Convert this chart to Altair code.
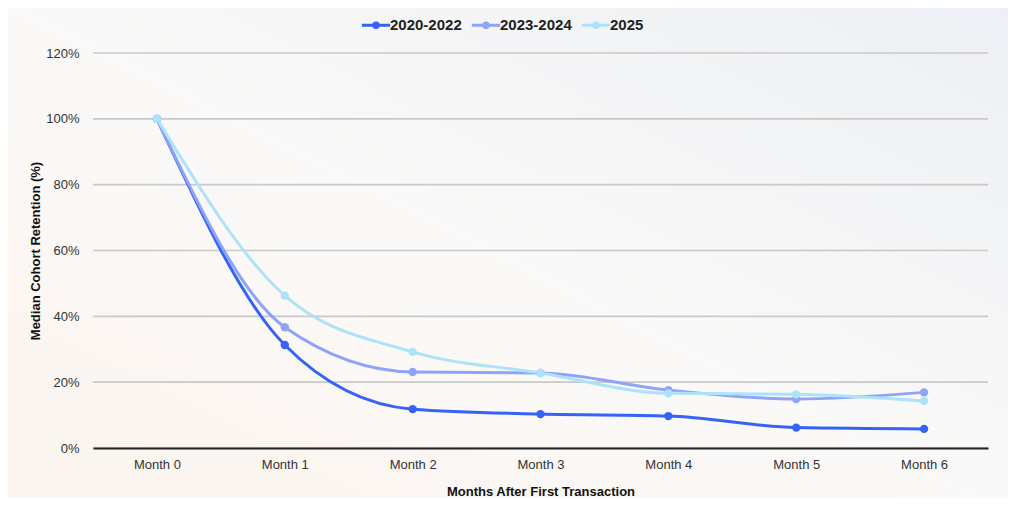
import altair as alt
import pandas as pd

months = ["Month 0", "Month 1", "Month 2", "Month 3", "Month 4", "Month 5", "Month 6"]
series_names = ["2020-2022", "2023-2024", "2025"]
s2020_2022 = [100, 31.3, 11.8, 10.3, 9.7, 6.2, 5.8]
s2023_2024 = [100, 36.7, 23.1, 22.8, 17.6, 14.9, 16.9]
s2025 = [100, 46.3, 29.2, 22.8, 16.6, 16.3, 14.3]
colors = ["#3563f6", "#8ea4f9", "#abe3fa"]
y_ticks = [0, 20, 40, 60, 80, 100, 120]

rows = []
for name, vals in zip(series_names, [s2020_2022, s2023_2024, s2025]):
    for i, (m, v) in enumerate(zip(months, vals)):
        rows.append({"Month": m, "Cohort": name, "Retention": v, "order": series_names.index(name)})
df = pd.DataFrame(rows)
grid_df = pd.DataFrame({"Retention": y_ticks})

FONT = "Liberation Sans"

x = alt.X("Month:N", sort=months, scale=alt.Scale(type="point", padding=0.5),
          axis=alt.Axis(title="Months After First Transaction", labelAngle=0, labelPadding=10,
                        ticks=False, domainColor="#222", domainWidth=2, grid=False,
                        titlePadding=14, zindex=1))
y = alt.Y("Retention:Q", scale=alt.Scale(domain=[0, 120], nice=False),
          axis=alt.Axis(title="Median Cohort Retention (%)", values=y_ticks,
                        labelExpr="datum.value + '%'", domain=False, ticks=False,
                        grid=False, labelPadding=14, titlePadding=3, zindex=1))
color = alt.Color("Cohort:N", sort=series_names,
                  scale=alt.Scale(domain=series_names, range=colors),
                  legend=alt.Legend(title=None, orient="none", direction="horizontal",
                                    legendX=274, legendY=-37,
                                    symbolType="M-2,0L2,0M0.32,0A0.32,0.32,0,1,1,-0.32,0A0.32,0.32,0,1,1,0.32,0",
                                    symbolStrokeWidth=3, symbolSize=200, symbolFillColor=None,
                                    labelFontSize=15, labelFontWeight="bold", labelColor="#222",
                                    columnPadding=3, labelOffset=5))

bg = alt.Chart(alt.Data(values=[{"a": 1}])).mark_rect(
    fill=alt.Gradient(gradient="linear",
                      stops=[alt.GradientStop(color="#fcf4ee", offset=0),
                             alt.GradientStop(color="#faf9f8", offset=0.5),
                             alt.GradientStop(color="#eceff4", offset=1)],
                      x1=0, y1=1, x2=1, y2=0)
).encode(x=alt.value(-95), x2=alt.value(935), y=alt.value(-55), y2=alt.value(470))

grid = alt.Chart(grid_df).mark_rule(color="#c9c9c9", strokeWidth=1.6).encode(
    y=alt.Y("Retention:Q", scale=alt.Scale(domain=[0, 120], nice=False)))

base = alt.Chart(df)
lines = base.mark_line(interpolate="monotone", strokeWidth=3).encode(x=x, y=y, color=color, order="order:Q")
points = base.mark_circle(size=70, opacity=1).encode(x=x, y=y, color=alt.Color("Cohort:N", sort=series_names,
                  scale=alt.Scale(domain=series_names, range=colors), legend=None))

chart = alt.layer(bg, grid, lines, points).properties(
    width=895, height=395,
    autosize=alt.AutoSizeParams(type="none"),
    padding={"left": 85, "top": 45, "right": 20, "bottom": 50},
    background="#f8f7f5",
).configure_view(stroke=None).configure_axis(
    labelFont=FONT, titleFont=FONT, labelFontSize=13, labelColor="#333",
    titleFontSize=13, titleFontWeight="bold", titleColor="#111"
).configure_legend(labelFont=FONT)

chart.save("out.html", embed_options={"renderer": "svg", "actions": False})
